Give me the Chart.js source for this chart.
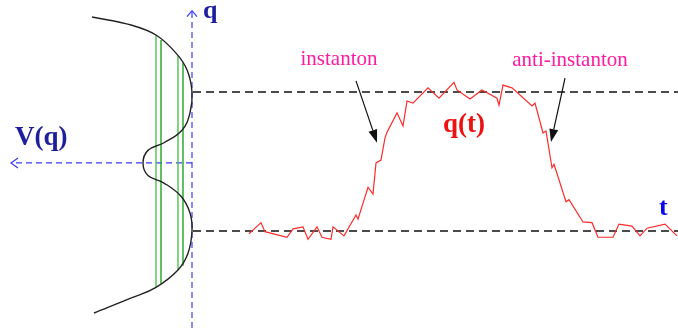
<!DOCTYPE html>
<html>
<head>
<meta charset="utf-8">
<script src="https://cdn.jsdelivr.net/npm/chart.js@4/dist/chart.umd.min.js"></script>
<style>
  html, body { margin: 0; padding: 0; background: #fff; }
  #wrap { width: 678px; height: 328px; }
</style>
</head>
<body>
<div id="wrap"><canvas id="instantonChart"></canvas></div>
<script>
// Path q(t): time to the right of the q axis, q in units of the well position
const pathT = [5.7, 6.9, 7.3, 9.5, 10.1, 11.1, 11.6, 12.5, 13.0, 13.9, 14.1, 15.2,
  16.4, 16.6, 17.6, 18.1, 18.4, 18.9, 19.3, 19.5, 20.5, 21.1, 21.5, 22.1,
  23.6, 24.7, 26.2, 26.5, 27.8, 29.0, 30.5, 30.7, 31.1, 32.0, 34.0, 34.3,
  35.1, 35.4, 36.0, 36.2, 37.4, 37.7, 39.1, 40.0, 40.6, 42.1, 42.7, 44.0,
  44.8, 45.5, 47.3, 48.5];
const pathQ = [-1.04, -0.88, -1.01, -1.09, -0.97, -0.94, -1.12, -0.94, -1.09, -1.12, -0.94, -1.07,
  -0.77, -0.83, -0.37, -0.47, -0.02, 0.02, 0.34, 0.42, 0.70, 0.51, 0.87, 0.84,
  1.06, 0.91, 1.14, 1.03, 0.90, 1.03, 0.91, 0.81, 1.10, 1.06, 0.80, 0.84,
  0.41, 0.44, -0.09, -0.04, -0.58, -0.55, -0.87, -0.88, -1.09, -1.09, -0.90, -0.93,
  -1.07, -0.96, -0.90, -1.07];

// Double well drawn sideways: q runs up, V(q) grows to the left
const potQ = [2.08, 1.96, 1.82, 1.56, 1.32, 1.00, 0.70, 0.45, 0.27, 0.16, -0.02,
  -0.20, -0.31, -0.50, -0.74, -1.00, -1.32, -1.56, -1.81, -1.96, -2.18];
const potV = [10.0, 6.0, 3.6, 1.6, 0.5, 0.0, 0.2, 1.0, 2.8, 4.4, 4.9,
  4.4, 2.8, 1.1, 0.2, 0.0, 0.4, 1.4, 3.6, 6.0, 9.8];

// Energy levels (green) and the q where each meets the curve
const levelV = [3.6, 3.1, 1.4, 0.9];
const levelTop = [1.82, 1.75, 1.53, 1.43];
const levelBot = [-1.81, -1.76, -1.56, -1.50];
const levelColor = ["#4cc44c", "#1fa51f", "#4cc44c", "#1fa51f"];

// Classical vacua
const wellQ = [1.0, -1.0];

// Axis extents
const tMin = -19.2, tMax = 48.6;
const qMin = -2.396, qMax = 2.324;
const qAxisTop = 2.17;
const vAxisEnd = 18.1;
const vAxisQ = -0.02;

const serif = '"Liberation Serif", "Times New Roman", serif';

const datasets = [];

datasets.push({
  data: pathT.map((t, i) => ({ x: t, y: pathQ[i] })),
  borderColor: "#ff2b2b",
  borderWidth: 1.2,
});

datasets.push({
  data: potQ.map((q, i) => ({ x: -potV[i], y: q })),
  borderColor: "#222",
  borderWidth: 1.4,
  tension: 0.4,
});

levelV.forEach((v, i) => {
  datasets.push({
    data: [{ x: -v, y: levelTop[i] }, { x: -v, y: levelBot[i] }],
    borderColor: levelColor[i],
    borderWidth: 1.4,
  });
});

wellQ.forEach((q) => {
  datasets.push({
    data: [{ x: 0.1, y: q }, { x: tMax, y: q }],
    borderColor: "#111",
    borderWidth: 1.4,
    borderDash: [8, 5],
  });
});

// blue axes
datasets.push({
  data: [{ x: 0, y: qMin }, { x: 0, y: qAxisTop }],
  borderColor: "#3b3bff",
  borderWidth: 1.2,
  borderDash: [6, 4],
});
datasets.push({
  data: [{ x: 0, y: vAxisQ }, { x: -vAxisEnd, y: vAxisQ }],
  borderColor: "#3b3bff",
  borderWidth: 1.2,
  borderDash: [6, 4],
});

const pointers = [
  { from: [16.4, 1.16], to: [18.5, 0.27] },
  { from: [37.3, 1.20], to: [35.9, 0.28] },
];

const labels = [
  { text: "q", t: 1.1, q: 2.065, font: "bold 26px " + serif, color: "#1f1f9e", align: "left" },
  { text: "V(q)", t: -17.7, q: 0.237, font: "bold 27px " + serif, color: "#1f1f9e", align: "left" },
  { text: "q(t)", t: 25.1, q: 0.424, font: "bold 27px " + serif, color: "#ee1111", align: "left" },
  { text: "t", t: 46.7, q: -0.77, font: "bold 26px " + serif, color: "#0a0aee", align: "left" },
  { text: "instanton", t: 14.7, q: 1.388, font: "21px " + serif, color: "#ff1aa3", align: "center" },
  { text: "anti-instanton", t: 37.8, q: 1.374, font: "21px " + serif, color: "#ff1aa3", align: "center" },
];

const overlay = {
  id: "overlay",
  afterDatasetsDraw(chart) {
    const { ctx, scales: { x, y } } = chart;
    const px = (t) => x.getPixelForValue(t);
    const py = (q) => y.getPixelForValue(q);
    ctx.save();

    // open chevrons at the ends of the blue axes
    ctx.strokeStyle = "#3b3bff";
    ctx.lineWidth = 1.2;
    let ax = px(0), ay = py(qAxisTop);
    ctx.beginPath();
    ctx.moveTo(ax - 5, ay + 6);
    ctx.lineTo(ax, ay);
    ctx.lineTo(ax + 5, ay + 6);
    ctx.stroke();
    ax = px(-vAxisEnd); ay = py(vAxisQ);
    ctx.beginPath();
    ctx.moveTo(ax + 7, ay - 5);
    ctx.lineTo(ax, ay);
    ctx.lineTo(ax + 7, ay + 5);
    ctx.stroke();

    // black pointer arrows
    ctx.strokeStyle = "#111";
    ctx.fillStyle = "#111";
    ctx.lineWidth = 1.2;
    pointers.forEach((p) => {
      const x0 = px(p.from[0]), y0 = py(p.from[1]);
      const x1 = px(p.to[0]), y1 = py(p.to[1]);
      const ang = Math.atan2(y1 - y0, x1 - x0);
      const len = 13, half = 4.5;
      const bx = x1 - len * Math.cos(ang), by = y1 - len * Math.sin(ang);
      ctx.beginPath();
      ctx.moveTo(x0, y0);
      ctx.lineTo(bx, by);
      ctx.stroke();
      ctx.beginPath();
      ctx.moveTo(x1, y1);
      ctx.lineTo(bx + half * Math.sin(ang), by - half * Math.cos(ang));
      ctx.lineTo(bx - half * Math.sin(ang), by + half * Math.cos(ang));
      ctx.closePath();
      ctx.fill();
    });

    labels.forEach((l) => {
      ctx.font = l.font;
      ctx.fillStyle = l.color;
      ctx.textAlign = l.align;
      ctx.textBaseline = "alphabetic";
      ctx.fillText(l.text, px(l.t), py(l.q));
    });
    ctx.restore();
  },
};

new Chart(document.getElementById("instantonChart"), {
  type: "scatter",
  data: { datasets },
  options: {
    responsive: true,
    maintainAspectRatio: false,
    animation: false,
    showLine: true,
    layout: { padding: 0 },
    elements: { point: { radius: 0, hoverRadius: 0 } },
    datasets: { scatter: { showLine: true, clip: false, pointRadius: 0 } },
    scales: {
      x: { type: "linear", min: tMin, max: tMax, display: false },
      y: { type: "linear", min: qMin, max: qMax, display: false },
    },
    plugins: { legend: { display: false }, tooltip: { enabled: false } },
  },
  plugins: [overlay],
});
</script>
</body>
</html>
